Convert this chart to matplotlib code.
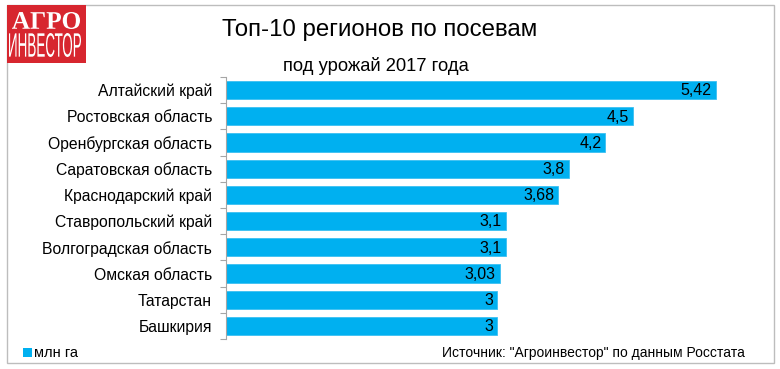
import matplotlib.pyplot as plt
import matplotlib.transforms as mtransforms
from matplotlib.patches import Rectangle, PathPatch
from matplotlib.textpath import TextPath
from matplotlib.font_manager import FontProperties

regions = ["Алтайский край", "Ростовская область", "Оренбургская область",
           "Саратовская область", "Краснодарский край", "Ставропольский край",
           "Волгоградская область", "Омская область", "Татарстан", "Башкирия"]
values = [5.42, 4.5, 4.2, 3.8, 3.68, 3.1, 3.1, 3.03, 3, 3]
value_labels = ["5,42", "4,5", "4,2", "3,8", "3,68", "3,1", "3,1", "3,03", "3", "3"]

bar_color = "#00b0f0"
font = ["Liberation Sans", "DejaVu Sans"]
plt.rcParams["font.family"] = font

W, H = 780, 369
fig = plt.figure(figsize=(W / 100, H / 100), dpi=100)


def fig_rect(x0, y0, x1, y1, **kw):
    # pixel box (from top-left) -> figure rectangle
    fig.add_artist(Rectangle((x0 / W, 1 - y1 / H), (x1 - x0) / W, (y1 - y0) / H,
                             transform=fig.transFigure, **kw))


def fit_text(s, x0, y0, x1, y1, prop, color="white"):
    # stretch text outline to fill a pixel box
    tp = TextPath((0, 0), s, size=20, prop=prop)
    bb = tp.get_extents()
    tr = (mtransforms.Affine2D().translate(-bb.x0, -bb.y0)
          .scale((x1 - x0) / bb.width, (y1 - y0) / bb.height)
          .translate(x0, H - y1).scale(1 / W, 1 / H) + fig.transFigure)
    fig.add_artist(PathPatch(tp, facecolor=color, edgecolor="none", transform=tr))


# outer frame
fig_rect(7, 5, 774, 363, fill=False, edgecolor="#bdbdbd", linewidth=1)

# logo
fig_rect(7, 5, 86, 63, facecolor="#d7262f", edgecolor="none")
fit_text("АГРО", 12, 12, 80, 29, FontProperties(family="Liberation Serif", weight="bold"))
fit_text("ИНВЕСТОР", 9, 33, 81, 57, FontProperties(family="Liberation Sans"))

fig.text(222 / W, 1 - 30 / H, "Топ-10 регионов по посевам", fontsize=17.3, ha="left", va="center")
fig.text(283 / W, 1 - 66 / H, "под урожай 2017 года", fontsize=13.2, ha="left", va="center")

ax = fig.add_axes([226 / W, 1 - 339 / H, 542 / W, 262 / H])
y = range(len(regions))
ax.barh(y, values, height=0.69, color=bar_color, edgecolor="#3cc0f2", linewidth=0.6)
ax.set_ylim(len(regions) - 0.5, -0.5)
ax.set_xlim(0, 6)
for i, (v, lab) in enumerate(zip(values, value_labels)):
    ax.text(v - 0.045, i + 0.03, lab, ha="right", va="center", fontsize=11.5)

ax.set_yticks(list(y))
ax.set_yticklabels(regions, fontsize=11.3)
ax.tick_params(axis="y", length=0, pad=10)
ax.set_yticks([i - 0.5 for i in range(len(regions) + 1)], minor=True)
ax.tick_params(axis="y", which="minor", length=4, color="#a6a6a6", width=0.8)
ax.set_xticks([])
for s in ["top", "right", "bottom"]:
    ax.spines[s].set_visible(False)
ax.spines["left"].set_color("#a6a6a6")
ax.spines["left"].set_linewidth(0.8)

# legend / source
fig_rect(23, 348, 32, 357, facecolor=bar_color, edgecolor="none")
fig.text(34 / W, 1 - 353 / H, "млн га", fontsize=10.5, ha="left", va="center")
fig.text(745 / W, 1 - 352.5 / H, "Источник: \"Агроинвестор\" по данным Росстата",
         fontsize=10, ha="right", va="center")

fig.savefig("out.png", dpi=100)
